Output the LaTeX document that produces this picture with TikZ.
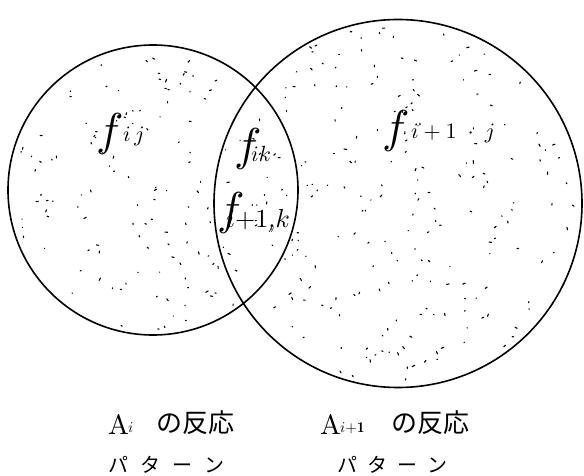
\documentclass[tikz,border=0pt]{standalone}
\usepackage{graphicx}
\usepackage{fontspec}
\usepackage{amsmath}
\newfontfamily\jpfont{Noto Sans CJK JP}
\usetikzlibrary{calc}
\newcommand{\mathsz}[2]{\scalebox{#1}{$#2$}}
\begin{document}
\begin{tikzpicture}[x=1pt,y=-1pt,
  ring/.style={circle,draw,line width=1.6pt,inner sep=0pt},
  speck/.style={line width=1.1pt,line cap=round},
  lab/.style={anchor=base west,inner sep=0pt,font=\fontsize{10}{10}\selectfont},
  jplab/.style={lab,font=\fontsize{26}{26}\selectfont}]
\useasboundingbox (0,0) rectangle (584,476);
\pgfmathsetseed{11}
% specks in left circle
\foreach \k in {1,...,140}{
  \pgfmathsetmacro\rr{140*sqrt(rnd)}
  \pgfmathsetmacro\aa{360*rnd}
  \pgfmathsetmacro\bb{360*rnd}
  \pgfmathsetmacro\ll{0.3+2.4*rnd}
  \pgfmathsetmacro\px{153+\rr*cos(\aa)}
  \pgfmathsetmacro\py{190+\rr*sin(\aa)}
  \draw[speck] (\px,\py) -- ++(\bb:\ll);
}
% specks in right circle (outside left circle)
\foreach \k in {1,...,220}{
  \pgfmathsetmacro\rr{179*sqrt(rnd)}
  \pgfmathsetmacro\aa{360*rnd}
  \pgfmathsetmacro\bb{360*rnd}
  \pgfmathsetmacro\ll{0.3+2.4*rnd}
  \pgfmathsetmacro\px{398+\rr*cos(\aa)}
  \pgfmathsetmacro\py{203.5+\rr*sin(\aa)}
  \pgfmathtruncatemacro\inl{veclen(\px-153,\py-190)<145 ? 1 : 0}
  \ifnum\inl=0 \draw[speck] (\px,\py) -- ++(\bb:\ll);\fi
}
\node[ring,minimum size=290pt] (L) at (153,190) {};
\node[ring,minimum size=368pt] (R) at (398,203.5) {};
% labels inside
\node[lab] (f1) at (96,146) {\mathsz{4.6}{f}};
\node[lab] (s1) at (123,142) {\mathsz{2.2}{i\,j}};
\node[lab] (f2) at (234,161) {\mathsz{4.6}{f}};
\node[lab] (s2) at (251,162) {\mathsz{2.2}{ik}};
\node[lab] (f3) at (217,224) {\mathsz{4.6}{f}};
\node[lab] (s3) at (226,227) {\mathsz{2.6}{i{+}1{,}k}};
\node[lab] (f4) at (382,143) {\mathsz{4.6}{f}};
\node[lab] (s4) at (411,139) {\mathsz{2.2}{i+1\;\cdot\;j}};
% bottom labels
\node[lab] (a1) at (108,434) {\mathsz{2.8}{\mathrm{A}}};
\node[lab] (a1s) at (128,432) {\mathsz{1.5}{i}};
\node[jplab] (t1) at (156,432) {\jpfont の反応};
\node[lab,font=\fontsize{20}{20}\selectfont] (p1) at (108,472) {\jpfont パ\hspace{12pt}タ\hspace{12pt}ー\hspace{12pt}ン};
\node[lab] (a2) at (320,434) {\mathsz{2.8}{\mathrm{A}}};
\node[lab] (a2s) at (340,432) {\mathsz{1.5}{i\mathbf{+1}}};
\node[jplab] (t2) at (391,432) {\jpfont の反応};
\node[lab,font=\fontsize{20}{20}\selectfont] (p2) at (337,472) {\jpfont パ\hspace{10pt}タ\hspace{10pt}ー\hspace{10pt}ン};
\end{tikzpicture}
\end{document}
